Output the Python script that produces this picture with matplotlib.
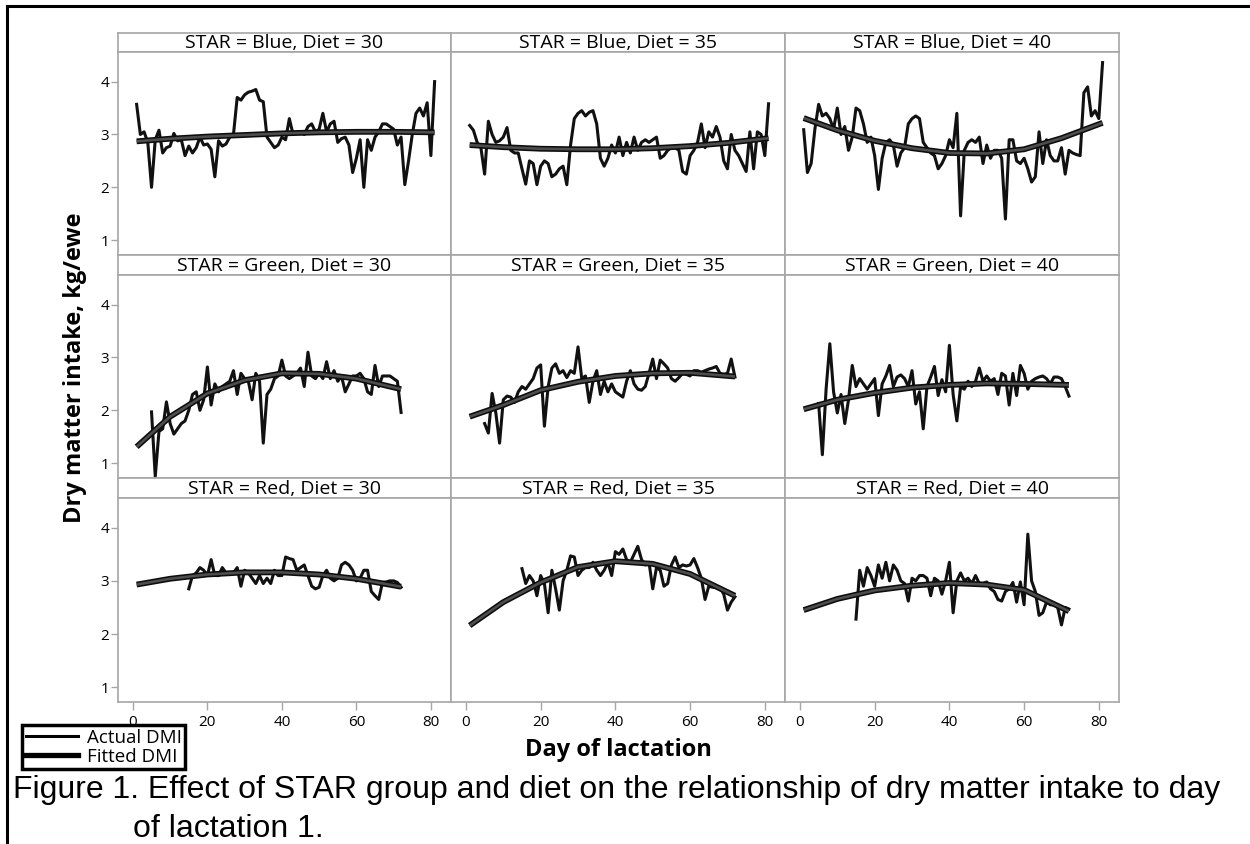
import numpy as np
import matplotlib
matplotlib.use("Agg")
import matplotlib.pyplot as plt
from matplotlib.lines import Line2D

plt.rcParams['font.family'] = ['Open Sans', 'DejaVu Sans']

W, H = 1250, 844

stars = ["Blue", "Green", "Red"]
diets = [30, 35, 40]

# first/last day of the actual DMI record for each STAR group
actual_start = {"Blue": 1, "Green": 5, "Red": 15}
actual_end = {"Blue": 81, "Green": 72, "Red": 72}

blue30 = [3.57, 3.0, 3.05, 2.85, 2.0, 2.9, 3.08, 2.65, 2.75, 2.78,
          3.02, 2.88, 2.9, 2.6, 2.78, 2.65, 2.75, 2.95, 2.8, 2.82,
          2.72, 2.2, 2.88, 2.78, 2.82, 2.95, 3.0, 3.7, 3.65, 3.75,
          3.8, 3.82, 3.85, 3.65, 3.62, 2.95, 2.85, 2.75, 2.8, 2.95,
          2.9, 3.3, 3.0, 3.05, 3.05, 3.0, 3.15, 3.2, 3.05, 3.1,
          3.4, 3.05, 3.2, 3.25, 2.85, 2.92, 2.95, 2.8, 2.28, 2.55,
          2.9, 2.0, 2.9, 2.7, 2.95, 3.05, 3.2, 3.2, 3.15, 3.1,
          2.8, 2.95, 2.05, 2.5, 3.0, 3.4, 3.5, 3.35, 3.6, 2.6,
          4.0]
blue35 = [3.17, 3.08, 2.85, 2.75, 2.25, 3.25, 3.0, 2.85, 2.88, 2.95,
          3.13, 2.7, 2.65, 2.65, 2.35, 2.06, 2.5, 2.45, 2.05, 2.4,
          2.5, 2.45, 2.2, 2.25, 2.35, 2.4, 2.05, 2.8, 3.3, 3.4,
          3.45, 3.35, 3.42, 3.45, 3.2, 2.55, 2.4, 2.55, 2.8, 2.65,
          2.95, 2.6, 2.85, 2.65, 2.95, 2.7, 2.85, 2.9, 2.85, 2.9,
          2.95, 2.55, 2.6, 2.7, 2.75, 2.75, 2.7, 2.3, 2.25, 2.6,
          2.7, 2.85, 3.2, 2.75, 3.05, 2.95, 3.15, 2.95, 2.5, 2.35,
          3.0, 2.7, 2.6, 2.45, 2.3, 3.05, 2.35, 3.05, 3.0, 2.6,
          3.58]
blue40 = [3.09, 2.28, 2.45, 3.1, 3.57, 3.35, 3.4, 3.3, 3.1, 3.5,
          3.0, 3.15, 2.7, 2.95, 3.5, 3.45, 3.2, 2.85, 2.95, 2.6,
          1.96, 2.55, 2.85, 2.9, 2.8, 2.4, 2.65, 2.75, 3.2, 3.3,
          3.35, 3.3, 2.85, 2.75, 2.65, 2.6, 2.35, 2.45, 2.6, 2.9,
          2.75, 3.4, 1.46, 2.7, 2.85, 2.9, 2.85, 2.95, 2.45, 2.8,
          2.55, 2.7, 2.7, 2.55, 1.4, 2.9, 2.9, 2.5, 2.45, 2.55,
          2.35, 2.1, 2.2, 3.05, 2.45, 2.9, 2.6, 2.5, 2.5, 2.75,
          2.25, 2.7, 2.65, 2.62, 2.6, 3.79, 3.9, 3.35, 3.45, 3.3,
          4.36]
green30 = [1.97, 0.75, 1.6, 1.65, 2.16, 1.75, 1.55, 1.65, 1.75, 1.8,
           2.0, 2.3, 2.35, 2.0, 2.2, 2.82, 2.1, 2.5, 2.35, 2.45,
           2.5, 2.55, 2.75, 2.3, 2.7, 2.6, 2.55, 2.2, 2.7, 2.55,
           1.38, 2.3, 2.4, 2.6, 2.65, 2.95, 2.65, 2.6, 2.65, 2.7,
           2.8, 2.45, 3.1, 2.65, 2.6, 2.7, 2.6, 2.92, 2.6, 2.75,
           2.55, 2.65, 2.35, 2.5, 2.65, 2.65, 2.7, 2.6, 2.35, 2.3,
           2.85, 2.45, 2.65, 2.65, 2.65, 2.6, 2.55, 1.96]
green35 = [1.75, 1.57, 2.32, 1.95, 1.38, 2.2, 2.27, 2.25, 2.15, 2.35,
           2.45, 2.4, 2.5, 2.6, 2.8, 2.86, 1.7, 2.45, 2.8, 2.88,
           2.7, 2.75, 2.62, 2.75, 2.7, 3.2, 2.6, 2.65, 2.15, 2.55,
           2.75, 2.3, 2.55, 2.35, 2.5, 2.35, 2.3, 2.25, 2.55, 2.75,
           2.5, 2.4, 2.38, 2.45, 2.7, 2.97, 2.6, 2.95, 2.88, 2.8,
           2.6, 2.55, 2.62, 2.7, 2.68, 2.65, 2.75, 2.75, 2.72, 2.75,
           2.78, 2.8, 2.83, 2.7, 2.68, 2.7, 2.97, 2.63]
green40 = [2.13, 1.16, 2.4, 3.26, 2.35, 1.95, 2.3, 1.75, 2.2, 2.85,
           2.45, 2.6, 2.5, 2.4, 2.5, 2.6, 1.9, 2.5, 2.65, 2.85,
           2.45, 2.63, 2.67, 2.6, 2.45, 2.75, 2.12, 2.35, 1.65, 2.45,
           2.63, 2.83, 2.28, 2.58, 2.35, 3.23, 2.3, 1.8, 2.45, 2.4,
           2.55, 2.45, 2.55, 2.8, 2.55, 2.65, 2.55, 2.6, 2.3, 2.7,
           2.65, 2.1, 2.7, 2.28, 2.85, 2.7, 2.4, 2.55, 2.6, 2.63,
           2.65, 2.6, 2.5, 2.63, 2.63, 2.6, 2.45, 2.27]
red30 = [2.85, 3.1, 3.15, 3.25, 3.2, 3.1, 3.4, 3.1, 3.1, 3.25,
         3.15, 3.15, 3.15, 3.25, 2.9, 3.2, 3.15, 3.05, 2.95, 3.1,
         2.95, 3.05, 2.95, 3.2, 3.1, 3.1, 3.45, 3.42, 3.4, 3.2,
         3.25, 3.3, 3.1, 2.9, 2.85, 2.88, 3.1, 3.2, 3.05, 3.0,
         3.05, 3.3, 3.35, 3.3, 3.2, 3.0, 3.05, 3.2, 3.2, 2.8,
         2.72, 2.65, 2.97, 2.98, 3.0, 3.0, 2.97, 2.88]
red35 = [3.23, 2.95, 3.1, 3.0, 2.72, 3.1, 2.95, 2.4, 3.2, 2.85,
         2.45, 3.0, 3.2, 3.47, 3.45, 3.1, 3.2, 3.25, 3.25, 3.35,
         3.2, 3.1, 3.2, 3.35, 3.1, 3.55, 3.5, 3.6, 3.4, 3.35,
         3.5, 3.65, 3.4, 3.3, 3.35, 2.85, 3.25, 3.2, 2.9, 2.95,
         3.3, 3.45, 3.25, 3.3, 3.28, 3.3, 3.42, 3.25, 3.05, 2.65,
         2.9, 2.88, 2.88, 2.88, 2.75, 2.45, 2.6, 2.7]
red40 = [2.28, 3.2, 2.9, 3.25, 3.1, 2.9, 3.3, 3.05, 3.35, 3.0,
         3.3, 3.2, 3.0, 2.95, 2.62, 3.05, 3.0, 3.1, 3.1, 3.05,
         2.72, 3.05, 3.0, 2.75, 3.0, 3.35, 2.4, 3.0, 3.15, 3.0,
         3.05, 2.95, 3.1, 2.95, 2.95, 2.98, 2.85, 2.8, 2.65, 2.62,
         2.8, 2.85, 2.97, 2.6, 2.98, 2.55, 3.88, 3.0, 2.8, 2.35,
         2.4, 2.6, 2.55, 2.55, 2.5, 2.17, 2.5, 2.47]

# fitted DMI read at these days
fit_days = {"Blue": [1, 10, 20, 30, 40, 50, 60, 70, 81],
            "Green": [1, 10, 20, 30, 40, 50, 60, 72],
            "Red": [1, 10, 20, 30, 40, 50, 60, 72]}
blue30_fit = [2.87, 2.92, 2.96, 2.99, 3.02, 3.04, 3.05, 3.05, 3.04]
blue35_fit = [2.80, 2.76, 2.73, 2.72, 2.72, 2.74, 2.78, 2.84, 2.93]
blue40_fit = [3.31, 3.08, 2.88, 2.74, 2.65, 2.64, 2.72, 2.93, 3.22]
green30_fit = [1.31, 1.88, 2.32, 2.57, 2.70, 2.69, 2.60, 2.40]
green35_fit = [1.88, 2.10, 2.38, 2.54, 2.65, 2.70, 2.71, 2.64]
green40_fit = [2.02, 2.20, 2.33, 2.43, 2.48, 2.51, 2.50, 2.48]
red30_fit = [2.93, 3.04, 3.12, 3.16, 3.16, 3.12, 3.04, 2.89]
red35_fit = [2.16, 2.60, 2.97, 3.26, 3.37, 3.32, 3.13, 2.72]
red40_fit = [2.45, 2.66, 2.82, 2.91, 2.96, 2.93, 2.83, 2.43]

actual = {("Blue", 30): blue30, ("Blue", 35): blue35, ("Blue", 40): blue40,
          ("Green", 30): green30, ("Green", 35): green35, ("Green", 40): green40,
          ("Red", 30): red30, ("Red", 35): red35, ("Red", 40): red40}
fitted = {("Blue", 30): blue30_fit, ("Blue", 35): blue35_fit, ("Blue", 40): blue40_fit,
          ("Green", 30): green30_fit, ("Green", 35): green35_fit, ("Green", 40): green40_fit,
          ("Red", 30): red30_fit, ("Red", 35): red35_fit, ("Red", 40): red40_fit}

y_ticks = [1, 2, 3, 4]
x_ticks = [0, 20, 40, 60, 80]


def px_box(left, top, right, bottom):
    return [left / W, 1 - bottom / H, (right - left) / W, (bottom - top) / H]


fig = plt.figure(figsize=(W / 100, H / 100), dpi=100)

col_edges = [(118, 451), (451, 785), (785, 1119)]
row_edges = [(33, 52, 255), (255, 275, 478), (478, 498, 702)]
frame_col = "#a6a6a6"

for r, star in enumerate(stars):
    s_top, p_top, p_bot = row_edges[r]
    for c, diet in enumerate(diets):
        left, right = col_edges[c]
        # strip
        sax = fig.add_axes(px_box(left, s_top, right, p_top))
        sax.set_xticks([])
        sax.set_yticks([])
        for sp in sax.spines.values():
            sp.set_color(frame_col)
            sp.set_linewidth(1.2)
        sax.text(0.5, 0.45, f"STAR = {star}, Diet = {diet}", ha="center", va="center",
                 fontsize=14, transform=sax.transAxes)
        # panel
        ax = fig.add_axes(px_box(left, p_top, right, p_bot))
        days = np.arange(actual_start[star], actual_end[star] + 1)
        ax.plot(days, actual[(star, diet)], color="#111111", lw=2.2, zorder=2)
        ax.plot(fit_days[star], fitted[(star, diet)], color="#0d0d0d", lw=4.2,
                zorder=3, solid_capstyle="butt")
        ax.plot(fit_days[star], fitted[(star, diet)], color="#4d4d4d", lw=1.9,
                zorder=4, solid_capstyle="butt")
        ax.set_xlim(-4, 85.4)
        ax.set_ylim(0.72, 4.56)
        for sp in ax.spines.values():
            sp.set_color(frame_col)
            sp.set_linewidth(1.2)
        ax.tick_params(colors=frame_col, labelcolor="black", labelsize=11,
                       length=5, width=1)
        ax.set_yticks(y_ticks)
        ax.set_xticks(x_ticks)
        if c != 0:
            ax.tick_params(axis="y", left=False, labelleft=False)
        else:
            ax.tick_params(axis="y", pad=1.5)
        if r != 2:
            ax.tick_params(axis="x", bottom=False, labelbottom=False)
        else:
            ax.tick_params(axis="x", length=6, pad=3)

fig.text(618 / W, 1 - 750 / H, "Day of lactation", ha="center", va="center",
         fontsize=17, fontweight="bold")
fig.text(75 / W, 1 - 368 / H, "Dry matter intake, kg/ewe", ha="center", va="center",
         rotation=90, fontsize=17, fontweight="bold")

handles = [Line2D([], [], color="black", lw=2.2),
           Line2D([], [], color="black", lw=3.8)]
leg = fig.legend(handles, ["Actual DMI", "Fitted DMI"], loc="upper left",
                 bbox_to_anchor=(22 / W, 1 - 725 / H), fontsize=13.5,
                 frameon=True, fancybox=False, framealpha=1, borderpad=0.2,
                 labelspacing=0.05, handlelength=2.8, handletextpad=0.45,
                 borderaxespad=0)
leg.get_frame().set_edgecolor("black")
leg.get_frame().set_linewidth(2.5)

cap = ["Liberation Sans", "DejaVu Sans"]
fig.text(13 / W, 1 - 790 / H,
         "Figure 1. Effect of STAR group and diet on the relationship of dry matter intake to day",
         ha="left", va="center", fontsize=23, family=cap)
fig.text(133 / W, 1 - 829 / H, "of lactation 1.", ha="left", va="center",
         fontsize=23, family=cap)

# page border (left and top edges)
fig.add_artist(Line2D([7 / W, 7 / W], [0, 1 - 6 / H], color="black", lw=2.2))
fig.add_artist(Line2D([7 / W, 1], [1 - 6 / H, 1 - 6 / H], color="black", lw=2.2))

fig.savefig("out.png", dpi=100)
